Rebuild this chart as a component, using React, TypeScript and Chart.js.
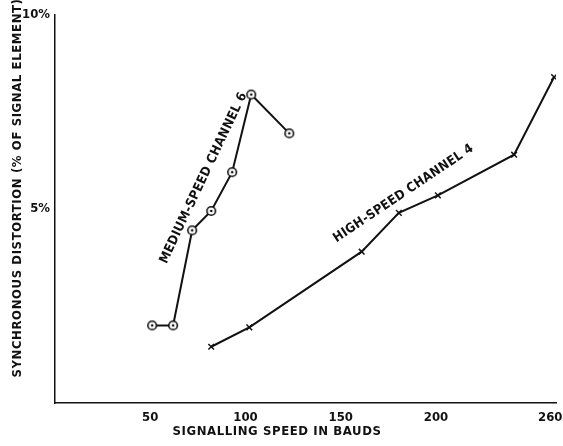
import React, { useEffect, useRef } from "react";
import { Chart, registerables } from "chart.js";

Chart.register(...registerables);

const xTickValues = [50, 100, 150, 200, 260];
const yTickValues = [5, 10];
const yTickLabels = ["5%", "10%"];

const mediumSpeedX = [51, 62, 72, 82, 93, 103, 123];
const mediumSpeedY = [2, 2, 4.45, 4.95, 5.95, 7.95, 6.95];

const highSpeedX = [82, 102, 161, 180.5, 201, 241, 262];
const highSpeedY = [1.45, 1.95, 3.9, 4.9, 5.35, 6.4, 8.4];

const xTitle = "SIGNALLING SPEED IN BAUDS";
const yTitle = "SYNCHRONOUS DISTORTION (% OF SIGNAL ELEMENT)";

const seriesLabels = [
  { text: "MEDIUM-SPEED CHANNEL 6", x: 78, y: 5.8, angle: -64.6 },
  { text: "HIGH-SPEED CHANNEL 4", x: 183, y: 5.4, angle: -33.8 },
];

const FONT = "'DejaVu Sans Condensed', 'Liberation Sans Narrow', 'DejaVu Sans', sans-serif";
const INK = "#111";

function makeCircleDot(): HTMLCanvasElement {
  const c = document.createElement("canvas");
  c.width = 12;
  c.height = 12;
  const ctx = c.getContext("2d")!;
  ctx.fillStyle = "#fff";
  ctx.strokeStyle = INK;
  ctx.lineWidth = 1.6;
  ctx.beginPath();
  ctx.arc(6, 6, 4.3, 0, Math.PI * 2);
  ctx.fill();
  ctx.stroke();
  ctx.fillStyle = INK;
  ctx.beginPath();
  ctx.arc(6, 6, 1.3, 0, Math.PI * 2);
  ctx.fill();
  return c;
}

const textPlugin = {
  id: "textPlugin",
  afterDraw(chart: any) {
    const ctx = chart.ctx as CanvasRenderingContext2D;
    const xs = chart.scales.x;
    const ys = chart.scales.y;
    ctx.save();
    ctx.fillStyle = INK;
    ctx.textAlign = "center";
    ctx.textBaseline = "middle";
    ctx.font = `bold 13px ${FONT}`;
    (ctx as any).letterSpacing = "0.6px";
    // axis titles
    ctx.fillText(xTitle, 277, 432);
    ctx.save();
    ctx.translate(18, 188);
    ctx.rotate(-Math.PI / 2);
    ctx.fillText(yTitle, 0, 0);
    ctx.restore();
    // series labels
    (ctx as any).letterSpacing = "0.3px";
    for (const l of seriesLabels) {
      ctx.save();
      ctx.translate(xs.getPixelForValue(l.x), ys.getPixelForValue(l.y));
      ctx.rotate((l.angle * Math.PI) / 180);
      ctx.fillText(l.text, 0, 0);
      ctx.restore();
    }
    ctx.restore();
  },
};

export default function App() {
  const ref = useRef<HTMLCanvasElement>(null);

  useEffect(() => {
    if (!ref.current) return;
    const circleDot = makeCircleDot();
    const chart = new Chart(ref.current, {
      type: "line",
      data: {
        datasets: [
          {
            label: "Medium-speed channel 6",
            data: mediumSpeedX.map((x, i) => ({ x, y: mediumSpeedY[i] })),
            borderColor: INK,
            borderWidth: 2,
            pointStyle: circleDot as any,
            pointRadius: 5,
            tension: 0,
          },
          {
            label: "High-speed channel 4",
            data: highSpeedX.map((x, i) => ({ x, y: highSpeedY[i] })),
            borderColor: INK,
            borderWidth: 2,
            pointStyle: "crossRot",
            pointRadius: 4,
            pointBorderColor: INK,
            pointBorderWidth: 1.5,
            tension: 0,
          },
        ],
      },
      options: {
        responsive: false,
        animation: false,
        layout: { padding: { top: 15, right: 4, left: 0, bottom: 0 } },
        plugins: {
          legend: { display: false },
          tooltip: { enabled: false },
          title: { display: false },
        },
        scales: {
          x: {
            type: "linear",
            min: 0,
            max: 263,
            grid: { display: false, drawTicks: false, tickLength: 0 },
            border: { display: true, color: INK, width: 1.5 },
            afterBuildTicks: (scale: any) => {
              scale.ticks = xTickValues.map((v) => ({ value: v }));
            },
            afterFit: (scale: any) => {
              scale.height = 43;
              scale.paddingLeft = 0;
              scale.paddingRight = 0;
            },
            ticks: {
              color: INK,
              padding: 7,
              font: { family: FONT, size: 13, weight: "bold" },
              maxRotation: 0,
              autoSkip: false,
              callback: (v: any) => String(v),
            },
          },
          y: {
            type: "linear",
            min: 0,
            max: 10,
            grid: { display: false, drawTicks: false, tickLength: 0 },
            border: { display: true, color: INK, width: 1.5 },
            afterBuildTicks: (scale: any) => {
              scale.ticks = yTickValues.map((v) => ({ value: v }));
            },
            afterFit: (scale: any) => {
              scale.width = 55;
              scale.paddingTop = 0;
              scale.paddingBottom = 0;
            },
            ticks: {
              color: INK,
              padding: 5,
              font: { family: FONT, size: 13, weight: "bold" },
              autoSkip: false,
              callback: (v: any) => {
                const i = yTickValues.indexOf(Number(v));
                return i >= 0 ? yTickLabels[i] : "";
              },
            },
          },
        },
      },
      plugins: [textPlugin],
    });
    return () => chart.destroy();
  }, []);

  return (
    <div style={{ position: "absolute", left: 0, top: 0, width: 563, height: 446, background: "#fff" }}>
      <canvas ref={ref} width={563} height={446} style={{ display: "block" }} />
    </div>
  );
}
